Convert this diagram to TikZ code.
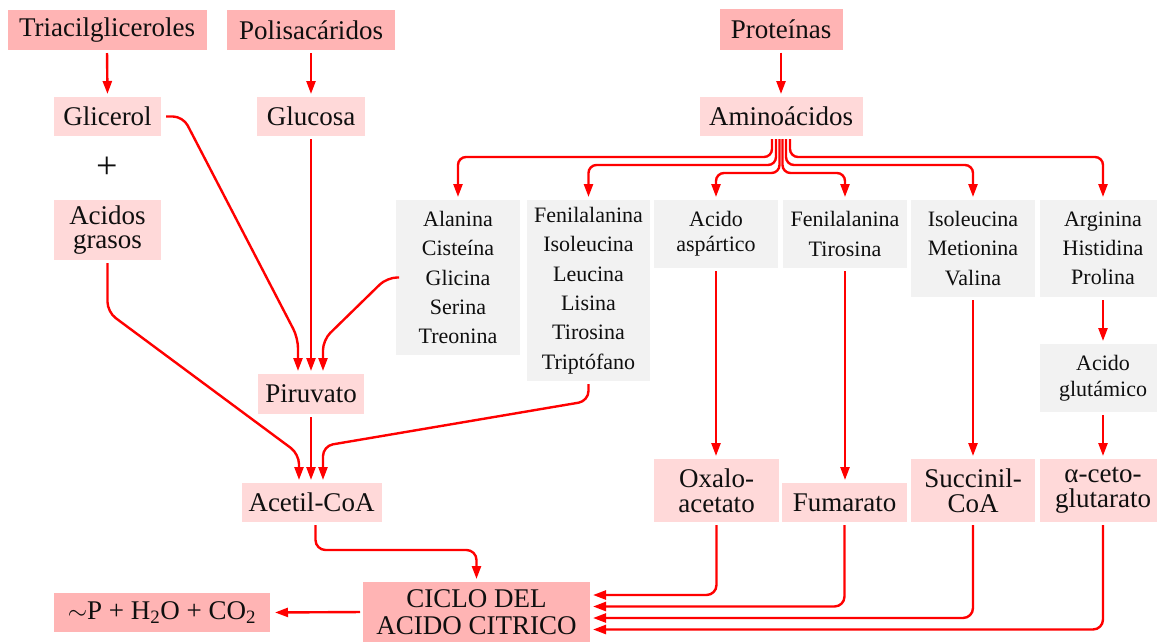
\documentclass[tikz,border=0pt]{standalone}
\usepackage{fontspec}
\setmainfont{Liberation Serif}
\usetikzlibrary{arrows.meta}
\definecolor{dpink}{RGB}{255,180,180}
\definecolor{lpink}{RGB}{255,217,217}
\definecolor{lgrey}{RGB}{242,242,242}
\definecolor{lred}{RGB}{255,0,0}
\definecolor{txt}{RGB}{15,15,15}
\begin{document}
\begin{tikzpicture}[x=1pt,y=-1pt,
 box/.style={inner sep=0pt, outer sep=0pt, align=center, text=txt},
 dbox/.style={box, fill=dpink, font=\fontsize{27}{27}\selectfont},
 lbox/.style={box, fill=lpink, font=\fontsize{27}{25}\selectfont},
 gbox/.style={box, fill=lgrey, font=\fontsize{22}{29.3}\selectfont},
 arr/.style={draw=lred, line width=2.4pt, -{Triangle[length=13pt,width=9pt]}, rounded corners=10pt, shorten <=3pt, shorten >=3pt},
]
\useasboundingbox (0,0) rectangle (1157,641);
% top row
\node[dbox, minimum width=199pt, minimum height=40pt] (tri) at (107,30) {Triacilgliceroles};
\node[dbox, minimum width=168pt, minimum height=40pt] (pol) at (311,30) {Polisacáridos};
\node[dbox, minimum width=123pt, minimum height=41pt] (pro) at (781,29) {Proteínas};
% second row
\node[lbox, minimum width=107pt, minimum height=39pt] (gli) at (107.5,116.5) {Glicerol};
\node[lbox, minimum width=108pt, minimum height=39pt] (glu) at (311,116.5) {Glucosa};
\node[lbox, minimum width=163pt, minimum height=39pt] (ami) at (781,116.5) {Aminoácidos};
\node[box, font=\fontsize{38}{38}\selectfont] (plus) at (107,168) {+};
\node[lbox, font=\fontsize{27}{24.5}\selectfont, minimum width=107pt, minimum height=60pt] (aci) at (107.5,230) {Acidos\\grasos};
% grey amino acid groups
\node[gbox, minimum width=124pt, minimum height=155pt] (g1) at (458,277.5) {Alanina\\Cisteína\\Glicina\\Serina\\Treonina};
\node[gbox, minimum width=123pt, minimum height=181pt] (g2) at (588.5,290.5) {Fenilalanina\\Isoleucina\\Leucina\\Lisina\\Tirosina\\Triptófano};
\node[gbox, font=\fontsize{22}{25}\selectfont, minimum width=124pt, minimum height=68pt] (g3) at (716,234) {Acido\\aspártico};
\node[gbox, minimum width=124pt, minimum height=68pt] (g4) at (845,234) {Fenilalanina\\Tirosina};
\node[gbox, minimum width=124pt, minimum height=97pt] (g5) at (973,248.5) {Isoleucina\\Metionina\\Valina};
\node[gbox, minimum width=126pt, minimum height=97pt] (g6) at (1103,248.5) {Arginina\\Histidina\\Prolina};
\node[gbox, font=\fontsize{22}{26}\selectfont, minimum width=126pt, minimum height=68pt] (g7) at (1103,378) {Acido\\glutámico};
% middle / lower
\node[lbox, minimum width=106pt, minimum height=40pt] (pir) at (311,394) {Piruvato};
\node[lbox, minimum width=140pt, minimum height=39pt] (ace) at (311.5,502.5) {Acetil-CoA};
\node[lbox, minimum width=125pt, minimum height=63pt] (oxa) at (716.5,490.5) {Oxalo-\\acetato};
\node[lbox, minimum width=125pt, minimum height=39pt] (fum) at (844.5,502.5) {Fumarato};
\node[lbox, minimum width=124pt, minimum height=63pt] (suc) at (973,490.5) {Succinil-\\CoA};
\node[lbox, minimum width=126pt, minimum height=63pt] (cet) at (1103,490.5) {α-ceto-\\glutarato};
\node[dbox, minimum width=227pt, minimum height=60pt] (cic) at (476.5,612) {CICLO DEL\\ACIDO CITRICO};
\node[dbox, minimum width=216pt, minimum height=39pt] (atp) at (162,612.5) {$\sim$P + H\textsubscript{2}O + CO\textsubscript{2}};
% connectors: top
\draw[arr] (tri.south) -- (gli.north);
\draw[arr] (pol.south) -- (glu.north);
\draw[arr] (pro.south) -- (ami.north);
% into piruvato
\draw[arr, shorten <=5pt] (gli.east) -- (183,116.5) -- (298,338) -- ([xshift=-13pt]pir.north);
\draw[arr] (glu.south) -- (pir.north);
\draw[arr] (g1.west) -- (387,277.5) -- (323,340) -- ([xshift=12pt]pir.north);
% into acetil-CoA
\draw[arr] (aci.south) -- (107.5,312) -- (299,454) -- ([xshift=-12.5pt]ace.north);
\draw[arr] (pir.south) -- (pir.south |- ace.north);
\draw[arr] (g2.south) -- (588.5,401) -- (323,446) -- ([xshift=11.5pt]ace.north);
\draw[arr] ([xshift=4pt]ace.south) -- (315.5,550) -- (cic.north |- 0,550) -- (cic.north);
% aminoacid fan
\draw[arr, rounded corners=8pt] ([xshift=-9pt]ami.south) -- (772,157) -- (g1.north |- 0,157) -- (g1.north);
\draw[arr, rounded corners=8pt] ([xshift=-5pt]ami.south) -- (776,165) -- (g2.north |- 0,165) -- (g2.north);
\draw[arr, rounded corners=8pt] ([xshift=-1.5pt]ami.south) -- (779.5,173) -- (g3.north |- 0,173) -- (g3.north);
\draw[arr, rounded corners=8pt] ([xshift=1.5pt]ami.south) -- (782.5,173) -- (g4.north |- 0,173) -- (g4.north);
\draw[arr, rounded corners=8pt] ([xshift=5pt]ami.south) -- (786,165) -- (g5.north |- 0,165) -- (g5.north);
\draw[arr, rounded corners=8pt] ([xshift=9pt]ami.south) -- (790,157) -- (g6.north |- 0,157) -- (g6.north);
% right column
\draw[arr] (g3.south) -- (g3.south |- oxa.north);
\draw[arr] (g4.south) -- (g4.south |- fum.north);
\draw[arr] (g5.south) -- (g5.south |- suc.north);
\draw[arr] (g6.south) -- (g7.north);
\draw[arr] (g7.south) -- (cet.north);
% back into the cycle
\draw[arr] (oxa.south) -- (oxa.south |- 0,595) -- (cic.east |- 0,595);
\draw[arr] (fum.south) -- (fum.south |- 0,606.5) -- (cic.east |- 0,606.5);
\draw[arr] (suc.south) -- (suc.south |- 0,618) -- (cic.east |- 0,618);
\draw[arr] (cet.south) -- (cet.south |- 0,629.5) -- (cic.east |- 0,629.5);
\draw[arr, shorten >=5pt] (cic.west) -- (atp.east);
\end{tikzpicture}
\end{document}
